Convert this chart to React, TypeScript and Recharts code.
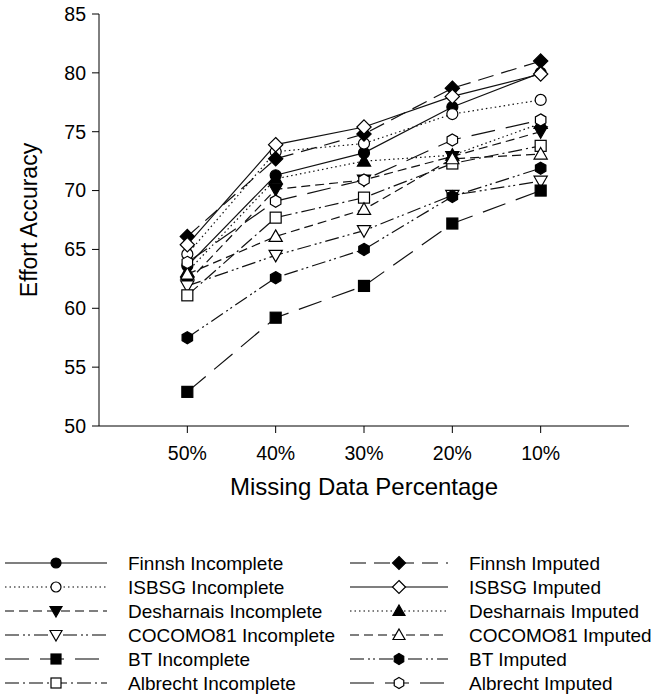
import { CartesianGrid, Line, LineChart, XAxis, YAxis } from "recharts";

const categories = ["50%", "40%", "30%", "20%", "10%"];
const yTicks = [50, 55, 60, 65, 70, 75, 80, 85];

const finnshIncomplete = [63.6, 71.3, 73.2, 77.1, 80.0];
const isbsgIncomplete = [64.6, 73.3, 74.0, 76.5, 77.7];
const desharnaisIncomplete = [62.2, 70.1, 70.9, 72.9, 75.0];
const cocomoIncomplete = [61.9, 64.5, 66.6, 69.6, 70.8];
const btIncomplete = [52.9, 59.2, 61.9, 67.2, 70.0];
const albrechtIncomplete = [61.1, 67.7, 69.4, 72.3, 73.8];

const finnshImputed = [66.1, 72.7, 74.8, 78.7, 81.0];
const isbsgImputed = [65.4, 73.9, 75.4, 78.0, 79.9];
const desharnaisImputed = [63.1, 71.0, 72.5, 73.0, 75.7];
const cocomoImputed = [62.9, 66.1, 68.4, 72.7, 73.1];
const btImputed = [57.5, 62.6, 65.0, 69.5, 71.9];
const albrechtImputed = [63.9, 69.1, 70.9, 74.3, 76.0];

const FONT = "'Liberation Sans', Arial, sans-serif";

type Shape = "circle" | "square" | "diamond" | "triUp" | "triDown" | "hexagon";

type Series = {
  key: string;
  label: string;
  values: number[];
  dash: string;
  shape: Shape;
  filled: boolean;
};

const incomplete: Series[] = [
  { key: "fi", label: "Finnsh Incomplete", values: finnshIncomplete, dash: "", shape: "circle", filled: true },
  { key: "ii", label: "ISBSG Incomplete", values: isbsgIncomplete, dash: "1.5 3", shape: "circle", filled: false },
  { key: "di", label: "Desharnais Incomplete", values: desharnaisIncomplete, dash: "9 5", shape: "triDown", filled: true },
  { key: "ci", label: "COCOMO81 Incomplete", values: cocomoIncomplete, dash: "14 4 2 3 2 4", shape: "triDown", filled: false },
  { key: "bi", label: "BT Incomplete", values: btIncomplete, dash: "24 11", shape: "square", filled: true },
  { key: "ai", label: "Albrecht Incomplete", values: albrechtIncomplete, dash: "14 4 2 4", shape: "square", filled: false },
];

const imputed: Series[] = [
  { key: "fm", label: "Finnsh Imputed", values: finnshImputed, dash: "16 8", shape: "diamond", filled: true },
  { key: "im", label: "ISBSG Imputed", values: isbsgImputed, dash: "", shape: "diamond", filled: false },
  { key: "dm", label: "Desharnais Imputed", values: desharnaisImputed, dash: "1.5 3", shape: "triUp", filled: true },
  { key: "cm", label: "COCOMO81 Imputed", values: cocomoImputed, dash: "9 5", shape: "triUp", filled: false },
  { key: "bm", label: "BT Imputed", values: btImputed, dash: "14 4 2 3 2 4", shape: "hexagon", filled: true },
  { key: "am", label: "Albrecht Imputed", values: albrechtImputed, dash: "24 11", shape: "hexagon", filled: false },
];

const allSeries = [...incomplete, ...imputed];

const data = categories.map((_, i) => {
  const row: Record<string, number> = { x: i + 1 };
  allSeries.forEach((s) => {
    row[s.key] = s.values[i];
  });
  return row;
});

function Marker({ shape, filled, cx, cy, s = 5.5 }: { shape: Shape; filled: boolean; cx: number; cy: number; s?: number }) {
  const p = { fill: filled ? "#000" : "#fff", stroke: "#000", strokeWidth: 1.2, strokeDasharray: "none" };
  const poly = (pts: number[][]) => <polygon points={pts.map((q) => q.join(",")).join(" ")} {...p} />;
  switch (shape) {
    case "circle":
      return <circle cx={cx} cy={cy} r={s} {...p} />;
    case "square":
      return <rect x={cx - s} y={cy - s} width={2 * s} height={2 * s} {...p} />;
    case "diamond": {
      const d = s * 1.3;
      return poly([[cx, cy - d], [cx + d, cy], [cx, cy + d], [cx - d, cy]]);
    }
    case "triUp":
      return poly([[cx, cy - s * 1.2], [cx + s * 1.2, cy + s * 0.9], [cx - s * 1.2, cy + s * 0.9]]);
    case "triDown":
      return poly([[cx, cy + s * 1.2], [cx + s * 1.2, cy - s * 0.9], [cx - s * 1.2, cy - s * 0.9]]);
    case "hexagon": {
      const r = s * 1.1;
      const pts = [-90, -30, 30, 90, 150, 210].map((a) => [
        cx + r * Math.cos((a * Math.PI) / 180),
        cy + r * Math.sin((a * Math.PI) / 180),
      ]);
      return poly(pts);
    }
  }
  return null;
}

function LegendColumn({ items, x0, x1, tx }: { items: Series[]; x0: number; x1: number; tx: number }) {
  return (
    <>
      {items.map((s, i) => {
        const y = 563 + i * 24;
        const mx = (x0 + x1) / 2;
        return (
          <g key={s.key}>
            <line x1={x0} x2={x1} y1={y} y2={y} stroke="#000" strokeWidth={1.2} strokeDasharray={s.dash || undefined} />
            <Marker shape={s.shape} filled={s.filled} cx={mx} cy={y} s={5} />
            <text x={tx} y={y} dominantBaseline="central" fontSize={19} fontFamily={FONT} fill="#000">
              {s.label}
            </text>
          </g>
        );
      })}
    </>
  );
}

export default function App() {
  return (
    <div style={{ position: "absolute", left: 0, top: 0, width: 656, height: 697, background: "#fff" }}>
      <LineChart width={656} height={520} data={data} margin={{ top: 14, right: 27, left: 0, bottom: 20 }}>
        <CartesianGrid stroke="none" />
        <XAxis
          dataKey="x"
          type="number"
          domain={[0, 6]}
          ticks={[1, 2, 3, 4, 5]}
          tickFormatter={(v: number) => categories[v - 1]}
          height={74}
          stroke="#000"
          tickSize={7}
          tickMargin={13}
          tick={{ fill: "#000", fontSize: 19.5, fontFamily: FONT }}
          label={{
            content: () => (
              <text x={364} y={486} textAnchor="middle" dominantBaseline="central" fontSize={24} fontFamily={FONT} fill="#000">
                Missing Data Percentage
              </text>
            ),
          }}
        />
        <YAxis
          domain={[50, 85]}
          ticks={yTicks}
          width={99}
          stroke="#000"
          tickSize={7}
          tickMargin={6}
          tick={{ fill: "#000", fontSize: 19.5, fontFamily: FONT }}
          label={{
            content: () => (
              <text
                x={29}
                y={220}
                transform="rotate(-90, 29, 220)"
                textAnchor="middle"
                dominantBaseline="central"
                fontSize={23}
                fontFamily={FONT}
                fill="#000"
              >
                Effort Accuracy
              </text>
            ),
          }}
        />
        {allSeries.map((s) => (
          <Line
            key={s.key}
            dataKey={s.key}
            stroke="#111"
            strokeWidth={1.2}
            strokeDasharray={s.dash || undefined}
            isAnimationActive={false}
            activeDot={false}
            dot={(props: any) => (
              <Marker key={`${s.key}-${props.index}`} shape={s.shape} filled={s.filled} cx={props.cx} cy={props.cy} />
            )}
          />
        ))}
      </LineChart>
      <svg width={656} height={697} style={{ position: "absolute", left: 0, top: 0, pointerEvents: "none" }}>
        <LegendColumn items={incomplete} x0={5} x1={107} tx={128} />
        <LegendColumn items={imputed} x0={350} x1={448} tx={469} />
      </svg>
    </div>
  );
}
